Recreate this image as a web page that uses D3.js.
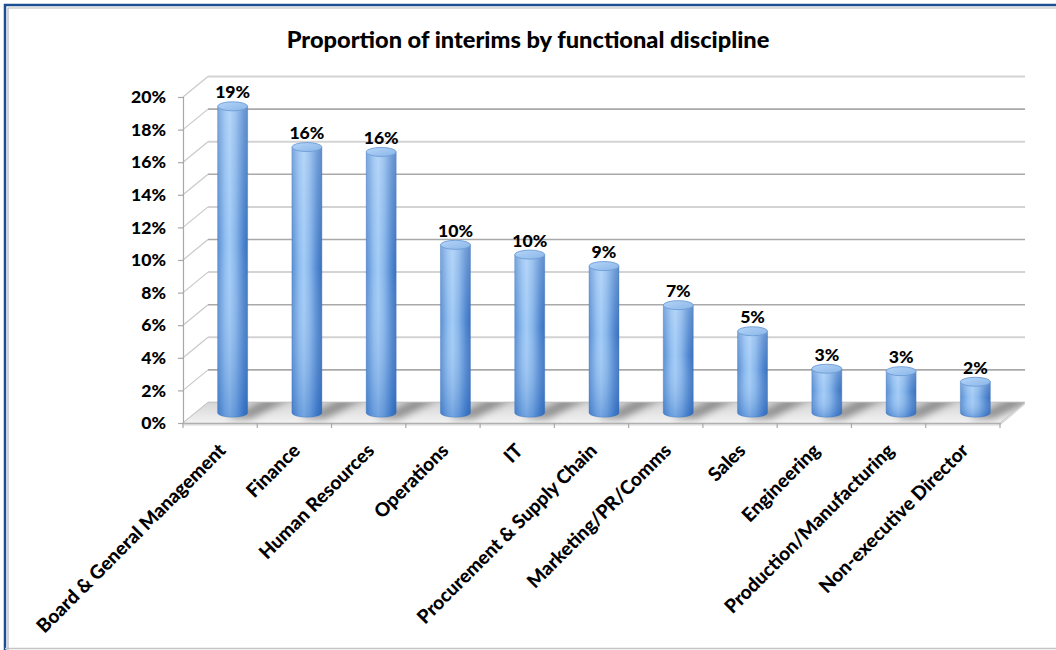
<!DOCTYPE html>
<html><head><meta charset="utf-8">
<script src="https://cdn.jsdelivr.net/npm/d3@7/dist/d3.min.js"></script>
<style>
html,body{margin:0;padding:0;background:#fff;}
svg{display:block;}
text{font-family:Lato,"Open Sans",sans-serif;font-weight:900;fill:#000;}
</style></head>
<body>
<svg id="chart" width="1056" height="650"></svg>
<script>
const title = "Proportion of interims by functional discipline";
const categories = ["Board & General Management","Finance","Human Resources","Operations","IT","Procurement & Supply Chain","Marketing/PR/Comms","Sales","Engineering","Production/Manufacturing","Non-executive Director"];
const values = [18.8, 16.3, 16.0, 10.3, 9.7, 9.0, 6.6, 5.0, 2.7, 2.55, 1.9];
const yTicks = [0,2,4,6,8,10,12,14,16,18,20];

const svg = d3.select("#chart");
const W = 1056, H = 650;
const X0 = 183, X1 = 1000, Y0 = 423, Y1 = 97;
const DX = 25, DY = -20.5;

const x = d3.scaleBand().domain(categories).range([X0, X1]).padding(0);
const y = d3.scaleLinear().domain([0, 20]).range([Y0, Y1]);
const bw = x.bandwidth();

function fitFont(sel, target, base){
  sel.style("font-size", base + "px");
  const w = sel.node().getComputedTextLength();
  return base * target / w;
}

// frame
svg.append("rect").attr("x",0).attr("y",0).attr("width",W).attr("height",H).attr("fill","#fff");
svg.append("path").attr("d",`M5,${H} L5,5 L${W},5`).attr("fill","none").attr("stroke","#1c4f92").attr("stroke-width",2.5);
svg.append("path").attr("d",`M8,${H} L8,8 L${W},8`).attr("fill","none").attr("stroke","#b8b8b8").attr("stroke-width",1.2);
svg.append("line").attr("x1",5).attr("x2",W).attr("y1",648.5).attr("y2",648.5).attr("stroke","#c4c4c4").attr("stroke-width",1.5);

const defs = svg.append("defs");
const gH = defs.append("linearGradient").attr("id","bodyH").attr("x1","0").attr("x2","1").attr("y1","0").attr("y2","0");
[["0%","#5a8fd2"],["25%","#8fbdf0"],["40%","#a3cbf6"],["60%","#86b5ea"],["85%","#4f86cf"],["100%","#3b72bd"]].forEach(s=>gH.append("stop").attr("offset",s[0]).attr("stop-color",s[1]));
const gV = defs.append("linearGradient").attr("id","bodyV").attr("x1","0").attr("x2","0").attr("y1","0").attr("y2","1");
[["0%","#ffffff",0.2],["45%","#ffffff",0.0],["100%","#0b4fb0",0.32]].forEach(s=>gV.append("stop").attr("offset",s[0]).attr("stop-color",s[1]).attr("stop-opacity",s[2]));
const gTop = defs.append("linearGradient").attr("id","topG").attr("x1","0").attr("x2","1").attr("y1","0").attr("y2","1");
[["0%","#b4d5f8"],["100%","#8bb6e8"]].forEach(s=>gTop.append("stop").attr("offset",s[0]).attr("stop-color",s[1]));
const gFloor = defs.append("linearGradient").attr("id","floorG").attr("x1","0").attr("x2","0").attr("y1","0").attr("y2","1");
[["0%","#d6d6d6"],["100%","#f2f2f2"]].forEach(s=>gFloor.append("stop").attr("offset",s[0]).attr("stop-color",s[1]));
defs.append("filter").attr("id","blur").attr("x","-50%").attr("y","-50%").attr("width","200%").attr("height","200%")
  .append("feGaussianBlur").attr("stdDeviation",3.5);

// title
const tt = svg.append("text").attr("x",528).attr("y",48).attr("text-anchor","middle").text(title);
tt.style("font-size", fitFont(tt, 483, 20) + "px");

// back wall gridlines
svg.append("g").selectAll("line").data(yTicks).join("line")
  .attr("x1",X0+DX).attr("x2",X1+DX)
  .attr("y1",d=>y(d)+DY).attr("y2",d=>y(d)+DY)
  .attr("stroke",d=>(d%4===0)?"#d3d3d3":"#a9a9a9")
  .attr("stroke-width",d=>(d%4===0)?2:1.6);

// left side wall diagonals
svg.append("g").selectAll("line").data(yTicks).join("line")
  .attr("x1",X0).attr("x2",X0+DX)
  .attr("y1",d=>y(d)).attr("y2",d=>y(d)+DY)
  .attr("stroke","#c9c9c9").attr("stroke-width",1.2);

// floor
const floor = svg.append("g");
floor.append("path")
  .attr("d",`M${X0},${Y0} L${X0+DX},${Y0+DY} L${X1+DX},${Y0+DY} L${X1},${Y0} Z`)
  .attr("fill","url(#floorG)").attr("stroke","#c8c8c8").attr("stroke-width",1);
floor.append("path")
  .attr("d",`M${X0},${Y0} L${X1},${Y0} L${X1+DX},${Y0+DY} L${X1+DX},${Y0+DY+2} L${X1},${Y0+2.5} L${X0},${Y0+2.5} Z`)
  .attr("fill","#d8d8d8");
const shadowClip = defs.append("clipPath").attr("id","floorClip");
shadowClip.append("path").attr("d",`M${X0},${Y0} L${X0+DX},${Y0+DY} L${X1+DX},${Y0+DY} L${X1},${Y0} Z`);
floor.append("g").attr("clip-path","url(#floorClip)").selectAll("path").data(categories).join("path")
  .attr("d",c=>{
    const cx = x(c)+bw/2+DX/2; const cy = Y0+DY/2;
    return `M${cx-6},${cy+6} L${cx+34},${cy-14} L${cx+58},${cy-14} L${cx+18},${cy+6} Z`;
  })
  .attr("fill","#6e6e6e").attr("opacity",0.7).attr("filter","url(#blur)");

// axes
const yAxis = svg.append("g").attr("transform",`translate(${X0},0)`)
  .call(d3.axisLeft(y).tickValues(yTicks).tickFormat(d=>d+"%").tickSize(5).tickPadding(12));
yAxis.select(".domain").attr("stroke","#a8a8a8").attr("stroke-width",1.2);
yAxis.selectAll(".tick line").attr("stroke","#a8a8a8").attr("stroke-width",1.2);
yAxis.selectAll(".tick text").attr("fill","#000").attr("font-family",null);
const yFs = fitFont(yAxis.select(".tick:last-of-type text"), 35, 17);
yAxis.selectAll(".tick text").style("font-size", yFs+"px");

const xAxis = svg.append("g").attr("transform",`translate(0,${Y0})`)
  .call(d3.axisBottom(x).tickSize(0).tickFormat(""));
xAxis.select(".domain").attr("stroke","#b0b0b0").attr("stroke-width",1.2);
xAxis.selectAll(".tick").remove();
svg.append("g").selectAll("line").data(d3.range(categories.length + 1)).join("line")
  .attr("x1",i=>X0+i*bw).attr("x2",i=>X0+i*bw)
  .attr("y1",Y0).attr("y2",Y0+5).attr("stroke","#a8a8a8").attr("stroke-width",1.2);

// x labels
const xl = svg.append("g").selectAll("text").data(categories).join("text")
  .attr("text-anchor","end")
  .attr("transform",c=>`translate(${x(c)+bw/2+2},${Y0+24}) rotate(-45)`)
  .attr("dy","0.35em")
  .text(c=>c);
const xFs = fitFont(d3.select(xl.nodes()[0]), 258, 16);
xl.style("font-size", xFs+"px");

// bars (cylinders)
const rx = 15, ry = 4.5;
const bars = svg.append("g").selectAll("g").data(categories.map((c,i)=>({c, v:values[i]}))).join("g");
bars.each(function(d){
  const g = d3.select(this);
  const cx = x(d.c)+bw/2+DX/2;
  const yb = y(0)+DY/2, yt = y(d.v)+DY/2;
  const body = `M${cx-rx},${yt} L${cx-rx},${yb} A${rx},${ry} 0 0 0 ${cx+rx},${yb} L${cx+rx},${yt} Z`;
  g.append("path").attr("d",body).attr("fill","url(#bodyH)");
  g.append("path").attr("d",body).attr("fill","url(#bodyV)");
  g.append("path").attr("d",body).attr("fill","none").attr("stroke","#3f74bb").attr("stroke-width",0.6).attr("opacity",0.6);
  g.append("ellipse").attr("cx",cx).attr("cy",yt).attr("rx",rx).attr("ry",ry)
    .attr("fill","url(#topG)").attr("stroke","#6d9cd6").attr("stroke-width",0.9);
});

// data labels
const dl = svg.append("g").selectAll("text").data(categories.map((c,i)=>({c, v:values[i]}))).join("text")
  .attr("text-anchor","middle")
  .attr("x",d=>x(d.c)+bw/2+DX/2)
  .attr("y",d=>y(d.v)+DY/2-8)
  .text(d=>d3.format(".0f")(d.v)+"%");
dl.style("font-size", yFs+"px");
</script>
</body></html>
